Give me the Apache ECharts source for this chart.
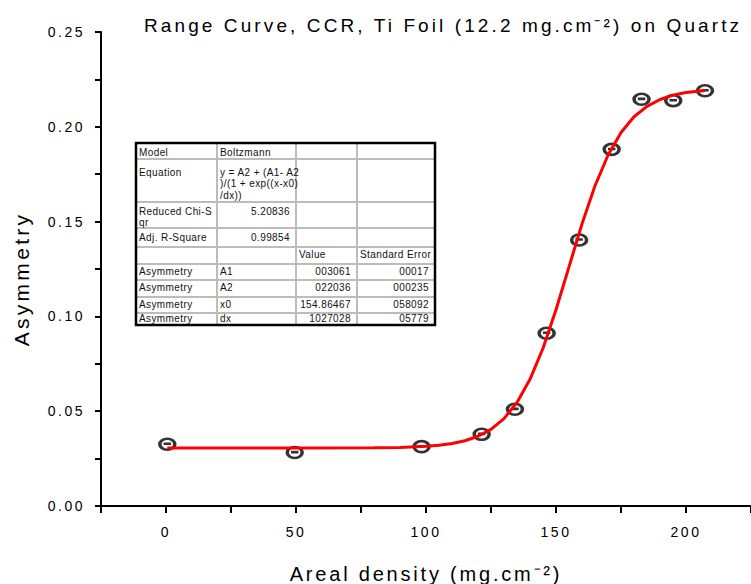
<!DOCTYPE html>
<html>
<head>
<meta charset="utf-8">
<script src="https://cdn.jsdelivr.net/npm/echarts@6.0.0/dist/echarts.min.js"></script>
<style>
html,body{margin:0;padding:0;background:#fff}
#c{width:751px;height:584px}
#c svg text[style*="19px"]{letter-spacing:3.1px}
#c svg text[style*="20px"]{letter-spacing:2.8px}
#c svg text[style*="21px"]{letter-spacing:3.3px}
#c svg text[style*="14px"]{letter-spacing:2.5px}
#c svg text[style*="10px"]{letter-spacing:0.4px}
</style>
</head>
<body>
<div id="c"></div>
<script>
// ---- texts ----
const titleText = 'Range Curve, CCR, Ti Foil (12.2 mg.cm\u207B\u00B2) on Quartz';
const xAxisTitle = 'Areal density (mg.cm\u207B\u00B2)';
const yAxisTitle = 'Asymmetry';

// ---- measured points ----
const pointX = [0.5, 49.5, 98.3, 121.4, 134.2, 146.4, 158.9, 171.4, 182.9, 195.1, 207.3];
const pointY = [0.0326, 0.0282, 0.0313, 0.0378, 0.0510, 0.0911, 0.1403, 0.1881, 0.2145, 0.2138, 0.2190];

// ---- fitted curve ----
const curveX = [0.5, 50, 80, 90, 100, 105, 110, 115, 120, 125, 130, 135, 140, 145, 150, 155, 160, 165, 170, 175, 180, 185, 190, 195, 200, 207.3];
const curveY = [0.0306, 0.0306, 0.0307, 0.0309, 0.0315, 0.0321, 0.0330, 0.0344, 0.0368, 0.0404, 0.0461, 0.0546, 0.0668, 0.0832, 0.1035, 0.1261, 0.1488, 0.1689, 0.1850, 0.1970, 0.2053, 0.2108, 0.2144, 0.2167, 0.2181, 0.2192];

// ---- fit table cells (columns) ----
const tableCol1 = ['Model', 'Equation', 'Reduced Chi-S\nqr', 'Adj. R-Square', '', 'Asymmetry', 'Asymmetry', 'Asymmetry', 'Asymmetry'];
const tableCol2 = ['Boltzmann', 'y = A2 + (A1- A2\n)/(1 + exp((x-x0)\n/dx))', '5.20836', '0.99854', '', 'A1', 'A2', 'x0', 'dx'];
const tableCol3 = ['', '', '', '', 'Value', '003061', '022036', '154.86467', '1027028'];
const tableCol4 = ['', '', '', '', 'Standard Error', '00017', '000235', '058092', '05779'];

// ---- table layout ----
const colEdges = [136, 217, 296, 357, 435];
const rowEdges = [143, 159, 202, 228, 247, 264, 280, 297, 313, 325];
const rowTextCenter = [152.5, 172.5, 211.5, 238, 255, 271.5, 288, 304.5, 318.5];

const chart = echarts.init(document.getElementById('c'), null, {renderer: 'svg'});

const tableEls = [];
tableEls.push({type: 'rect', shape: {x: colEdges[0], y: rowEdges[0], width: colEdges[4] - colEdges[0], height: rowEdges[rowEdges.length - 1] - rowEdges[0]}, style: {fill: '#fff', stroke: null}, silent: true});
for (let i = 1; i < colEdges.length - 1; i++) {
  tableEls.push({type: 'line', shape: {x1: colEdges[i], y1: rowEdges[0], x2: colEdges[i], y2: rowEdges[rowEdges.length - 1]}, style: {stroke: '#bcbcbc', lineWidth: 2}, silent: true});
}
for (let j = 1; j < rowEdges.length - 1; j++) {
  tableEls.push({type: 'line', shape: {x1: colEdges[0], y1: rowEdges[j], x2: colEdges[4], y2: rowEdges[j]}, style: {stroke: '#bcbcbc', lineWidth: 2}, silent: true});
}
const cols = [tableCol1, tableCol2, tableCol3, tableCol4];
cols.forEach((col, ci) => {
  col.forEach((txt, ri) => {
    if (!txt) return;
    const numeric = /^[\d.]+$/.test(txt);
    tableEls.push({
      type: 'text',
      x: numeric ? colEdges[ci + 1] - 6 : colEdges[ci] + 3,
      y: rowTextCenter[ri] - 6,
      silent: true,
      style: {text: txt, fill: '#111', fontSize: 10, fontFamily: 'Liberation Sans', align: numeric ? 'right' : 'left', verticalAlign: 'top', lineHeight: 11.5}
    });
  });
});
tableEls.push({type: 'rect', shape: {x: colEdges[0], y: rowEdges[0], width: colEdges[4] - colEdges[0], height: rowEdges[rowEdges.length - 1] - rowEdges[0]}, style: {fill: null, stroke: '#000', lineWidth: 2.5}, silent: true});

const option = {
  animation: false,
  backgroundColor: '#fff',
  title: {
    text: titleText,
    left: 144,
    top: 16,
    padding: 0,
    textStyle: {fontSize: 19, fontWeight: 'normal', fontFamily: 'Liberation Sans', color: '#000'}
  },
  grid: {left: 101, right: 0, top: 32, bottom: 78, containLabel: false, outerBoundsMode: 'none'},
  xAxis: {
    type: 'value',
    min: -25, max: 225, interval: 25,
    name: xAxisTitle,
    nameLocation: 'middle',
    nameGap: 58,
    nameTextStyle: {fontSize: 20, fontFamily: 'Liberation Sans', color: '#000'},
    axisLine: {onZero: false, lineStyle: {color: '#000', width: 2}},
    axisTick: {show: true, inside: false, length: 7, lineStyle: {color: '#000', width: 2}},
    axisLabel: {
      interval: 0, margin: 19, fontSize: 14, fontFamily: 'Liberation Sans', color: '#000',
      formatter: v => (Math.round(v) % 50 === 0 && v >= 0 && v <= 200) ? String(Math.round(v)) : ''
    },
    splitLine: {show: false}
  },
  yAxis: {
    type: 'value',
    min: 0, max: 0.25, interval: 0.025,
    name: yAxisTitle,
    nameLocation: 'middle',
    nameGap: 69,
    nameTextStyle: {fontSize: 21, fontFamily: 'Liberation Sans', color: '#000', padding: [0, 20, 0, 0]},
    axisLine: {show: true, onZero: false, lineStyle: {color: '#000', width: 2}},
    axisTick: {show: true, inside: false, length: 6, lineStyle: {color: '#000', width: 2}},
    axisLabel: {
      interval: 0, margin: 16, fontSize: 14, fontFamily: 'Liberation Sans', color: '#000',
      formatter: v => { const k = Math.round(v * 1000); return k % 50 === 0 ? (k / 1000).toFixed(2) : ''; }
    },
    splitLine: {show: false}
  },
  series: [
    {
      type: 'scatter',
      data: pointX.map((x, i) => [x, pointY[i]]),
      symbol: 'path://M0,5A7,5,0,1,1,14,5A7,5,0,1,1,0,5ZM3.5,4.6L10.5,4.6',
      symbolSize: [15, 11],
      symbolKeepAspect: false,
      itemStyle: {color: 'rgba(0,0,0,0)', borderColor: '#000', borderWidth: 3},
      z: 2,
      silent: true
    },
    {
      type: 'line',
      data: curveX.map((x, i) => [x, curveY[i]]),
      showSymbol: false,
      symbol: 'none',
      lineStyle: {color: '#ff0000', width: 3},
      z: 3,
      silent: true
    }
  ],
  graphic: {elements: tableEls}
};
chart.setOption(option);
</script>
</body>
</html>
